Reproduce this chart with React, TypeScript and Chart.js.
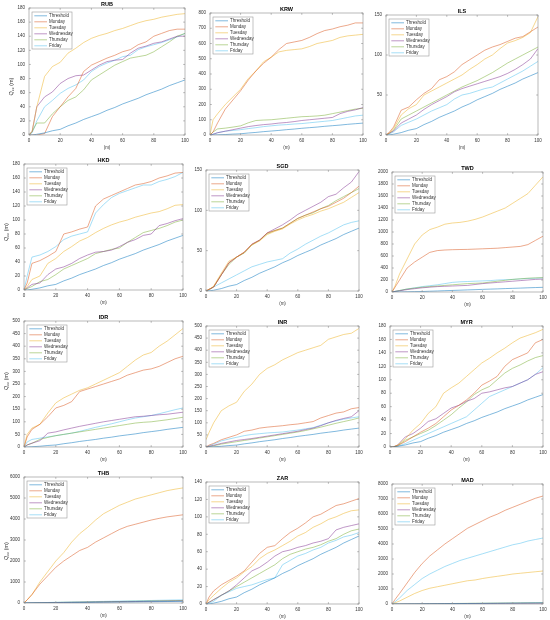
import React, { useEffect, useRef } from "react";
import { Chart, registerables } from "chart.js";

Chart.register(...registerables);

const FONT = '"Liberation Sans", Arial, Helvetica, sans-serif';
Chart.defaults.font.family = FONT;

// ---------- data ----------
const X = [0, 2, 5, 10, 15, 20, 25, 30, 35, 40, 45, 50, 55, 60, 65, 70, 75, 80, 85, 90, 95, 100];
const SERIES_NAMES = ["Threshold", "Monday", "Tuesday", "Wednesday", "Thursday", "Friday"];
const COLORS = ["#0072BD", "#D95319", "#EDB120", "#7E2F8E", "#77AC30", "#4DBEEE"];
const X_TICKS = [0, 20, 40, 60, 80, 100];

const THRESHOLD = [0, 0, 1, 3, 6, 8, 13, 17, 22, 26, 30, 35, 39, 44, 48, 52, 57, 61, 65, 70, 74, 78];

const RUB_MON = [0, 0, 0, 2, 26, 40, 54, 66, 90, 99, 104, 109, 113, 118, 121, 128, 132, 140, 144, 148, 150, 150];
const RUB_TUE = [0, 5, 40, 83, 97, 103, 116, 123, 131, 137, 141, 144, 148, 151, 155, 159, 162, 164, 167, 169, 171, 172];
const RUB_WED = [0, 5, 40, 54, 61, 73, 80, 84, 85, 92, 99, 104, 106, 107, 116, 123, 126, 130, 132, 136, 140, 140];
const RUB_THU = [0, 5, 17, 17, 30, 40, 49, 54, 64, 78, 85, 92, 99, 104, 109, 111, 113, 118, 125, 132, 140, 144];
const RUB_FRI = [0, 3, 20, 40, 49, 59, 66, 71, 78, 90, 97, 102, 106, 111, 113, 121, 125, 128, 131, 135, 139, 144];

const KRW_MON = [0, 20, 80, 170, 230, 290, 360, 420, 470, 510, 560, 600, 610, 620, 640, 665, 685, 695, 710, 720, 735, 735];
const KRW_TUE = [0, 100, 140, 200, 250, 300, 370, 420, 480, 510, 545, 555, 560, 565, 580, 600, 610, 620, 640, 650, 655, 660];
const KRW_WED = [0, 5, 15, 25, 35, 45, 55, 62, 68, 72, 78, 82, 88, 95, 100, 105, 110, 115, 140, 155, 165, 180];
const KRW_THU = [0, 20, 40, 45, 52, 60, 80, 95, 98, 100, 105, 110, 115, 120, 122, 125, 130, 140, 150, 160, 170, 175];
const KRW_FRI = [0, 5, 15, 25, 30, 35, 42, 48, 55, 60, 65, 68, 72, 75, 80, 85, 90, 95, 105, 115, 125, 130];

const ILS_MON = [0, 3, 10, 31, 35, 44, 52, 58, 69, 73, 79, 88, 94, 100, 106, 110, 113, 117, 121, 123, 129, 135];
const ILS_TUE = [0, 2, 8, 25, 33, 38, 50, 55, 60, 65, 70, 75, 82, 88, 95, 100, 108, 115, 118, 122, 128, 148];
const ILS_WED = [0, 2, 5, 15, 20, 25, 32, 38, 43, 48, 54, 58, 61, 64, 67, 70, 73, 77, 82, 88, 95, 108];
const ILS_THU = [0, 2, 6, 20, 25, 30, 35, 40, 45, 50, 55, 60, 64, 68, 73, 78, 84, 90, 95, 100, 105, 110];
const ILS_FRI = [0, 1, 4, 12, 16, 20, 25, 30, 34, 38, 45, 50, 52, 55, 58, 60, 65, 70, 75, 80, 86, 92];

const HKD_MON = [0, 10, 38, 42, 48, 55, 80, 83, 87, 90, 120, 130, 135, 140, 145, 150, 152, 155, 160, 163, 167, 168];
const HKD_TUE = [0, 5, 15, 20, 38, 45, 55, 62, 70, 75, 82, 88, 93, 97, 100, 104, 107, 110, 112, 116, 121, 122];
const HKD_WED = [0, 3, 8, 10, 22, 30, 33, 38, 45, 50, 54, 55, 57, 62, 68, 72, 78, 80, 92, 95, 99, 102];
const HKD_THU = [0, 2, 5, 12, 15, 22, 30, 35, 40, 45, 52, 55, 58, 60, 68, 75, 82, 85, 88, 92, 97, 100];
const HKD_FRI = [0, 20, 47, 50, 55, 62, 72, 77, 80, 83, 110, 122, 132, 138, 142, 146, 150, 150, 155, 158, 162, 168];

const SGD_MON = [0, 2, 5, 20, 35, 42, 48, 58, 63, 72, 75, 78, 84, 90, 94, 98, 102, 105, 110, 115, 122, 130];
const SGD_TUE = [0, 2, 6, 22, 37, 42, 48, 57, 62, 70, 74, 77, 83, 88, 92, 95, 99, 102, 106, 110, 116, 122];
const SGD_WED = [0, 2, 5, 20, 35, 42, 48, 58, 63, 72, 77, 82, 88, 95, 100, 105, 110, 117, 120, 128, 135, 148];
const SGD_THU = [0, 2, 5, 20, 33, 42, 47, 57, 63, 71, 75, 78, 84, 90, 94, 97, 102, 106, 112, 117, 122, 127];
const SGD_FRI = [0, 1, 5, 10, 15, 20, 25, 30, 33, 36, 38, 40, 47, 52, 58, 63, 68, 72, 77, 82, 85, 87];

const TWD_MON = [0, 80, 200, 400, 500, 580, 660, 690, 700, 705, 708, 710, 715, 720, 725, 730, 740, 750, 760, 790, 860, 930];
const TWD_TUE = [0, 100, 300, 550, 800, 950, 1040, 1080, 1130, 1150, 1160, 1180, 1210, 1250, 1300, 1350, 1400, 1480, 1560, 1640, 1780, 1920];
const TWD_WED = [0, 10, 20, 40, 55, 70, 80, 90, 95, 100, 105, 110, 125, 140, 150, 160, 170, 180, 190, 200, 210, 215];
const TWD_THU = [0, 10, 25, 50, 65, 80, 90, 100, 110, 120, 130, 140, 145, 150, 165, 180, 195, 210, 220, 230, 235, 240];
const TWD_FRI = [0, 10, 25, 50, 70, 90, 105, 120, 140, 160, 170, 175, 180, 185, 190, 200, 205, 210, 218, 225, 230, 235];

const IDR_MON = [0, 40, 70, 90, 120, 155, 165, 180, 220, 230, 240, 250, 260, 270, 285, 295, 305, 310, 320, 335, 350, 360];
const IDR_TUE = [0, 50, 75, 90, 135, 175, 195, 210, 225, 235, 250, 265, 280, 295, 320, 345, 365, 375, 400, 420, 445, 470];
const IDR_WED = [0, 8, 15, 25, 55, 60, 68, 75, 82, 88, 94, 100, 105, 110, 115, 120, 122, 125, 128, 130, 134, 138];
const IDR_THU = [0, 8, 15, 30, 38, 45, 50, 55, 60, 65, 70, 75, 80, 85, 90, 95, 98, 100, 104, 108, 113, 118];
const IDR_FRI = [0, 20, 30, 35, 40, 45, 50, 55, 62, 70, 78, 85, 92, 100, 108, 115, 120, 125, 132, 140, 148, 155];

const INR_MON = [0, 8, 15, 30, 40, 50, 65, 70, 78, 82, 85, 88, 92, 95, 100, 105, 120, 130, 140, 145, 158, 163];
const INR_TUE = [30, 60, 100, 150, 170, 185, 230, 260, 300, 325, 340, 360, 375, 390, 400, 410, 420, 445, 455, 465, 470, 490];
const INR_WED = [0, 3, 7, 15, 21, 27, 31, 35, 40, 45, 50, 55, 60, 65, 72, 78, 88, 100, 110, 118, 125, 150];
const INR_THU = [0, 2, 5, 12, 17, 22, 27, 32, 37, 42, 47, 52, 57, 62, 68, 75, 82, 90, 98, 105, 112, 120];
const INR_FRI = [0, 5, 12, 25, 33, 40, 47, 52, 55, 58, 60, 62, 66, 70, 75, 80, 90, 100, 108, 115, 120, 125];

const MYR_MON = [0, 0, 2, 8, 15, 22, 28, 35, 45, 55, 62, 70, 80, 92, 98, 105, 120, 130, 135, 140, 155, 160];
const MYR_TUE = [0, 0, 3, 12, 25, 35, 50, 60, 80, 88, 95, 105, 115, 125, 132, 140, 147, 155, 162, 166, 170, 175];
const MYR_WED = [0, 0, 3, 15, 20, 28, 38, 42, 50, 58, 62, 68, 72, 80, 82, 85, 88, 90, 95, 100, 108, 112];
const MYR_THU = [0, 0, 2, 10, 15, 20, 25, 32, 40, 48, 58, 67, 78, 85, 90, 100, 110, 117, 122, 128, 133, 136];
const MYR_FRI = [0, 0, 1, 5, 10, 15, 20, 25, 30, 35, 40, 45, 55, 65, 75, 80, 85, 90, 95, 100, 108, 118];

const THB_MON = [0, 150, 400, 900, 1300, 1700, 2000, 2250, 2500, 2650, 2900, 3100, 3300, 3500, 3650, 3750, 3850, 3950, 4030, 4100, 4150, 4200];
const THB_TUE = [0, 150, 400, 1000, 1500, 2000, 2400, 2900, 3300, 3600, 3950, 4250, 4450, 4650, 4800, 4950, 5050, 5150, 5250, 5350, 5420, 5480];
const THB_WED = [0, 3, 6, 12, 17, 22, 26, 31, 36, 40, 46, 50, 56, 61, 64, 70, 76, 80, 86, 91, 95, 100];
const THB_THU = [0, 4, 8, 14, 21, 26, 33, 38, 43, 51, 55, 61, 66, 71, 79, 84, 89, 97, 101, 108, 115, 120];
const THB_FRI = [0, 5, 10, 18, 25, 32, 40, 47, 54, 62, 70, 76, 84, 90, 97, 104, 112, 120, 128, 136, 143, 150];

const ZAR_MON = [0, 8, 15, 22, 27, 32, 38, 48, 58, 65, 67, 75, 82, 87, 93, 100, 103, 108, 113, 115, 118, 121];
const ZAR_TUE = [0, 5, 10, 18, 25, 30, 37, 43, 52, 58, 62, 67, 72, 78, 82, 88, 92, 97, 100, 104, 107, 108];
const ZAR_WED = [0, 2, 5, 10, 15, 22, 30, 38, 42, 48, 55, 60, 62, 65, 67, 70, 72, 75, 85, 88, 90, 92];
const ZAR_THU = [0, 2, 5, 10, 15, 20, 25, 30, 35, 40, 45, 52, 57, 60, 63, 65, 68, 72, 75, 80, 84, 86];
const ZAR_FRI = [0, 1, 3, 10, 14, 18, 20, 22, 25, 28, 30, 45, 50, 55, 58, 62, 65, 70, 73, 77, 79, 82];

const MAD_MON = [0, 300, 700, 1400, 2100, 2700, 3200, 3600, 4000, 4350, 4700, 5050, 5300, 5550, 5800, 6000, 6250, 6450, 6650, 6850, 7050, 7200];
const MAD_TUE = [0, 80, 200, 450, 700, 900, 1050, 1150, 1250, 1350, 1450, 1550, 1600, 1700, 1780, 1850, 1920, 2000, 2050, 2100, 2150, 2200];
const MAD_WED = [0, 1, 3, 6, 9, 12, 15, 18, 20, 23, 26, 28, 31, 33, 36, 38, 41, 43, 45, 47, 49, 50];
const MAD_THU = [0, 2, 5, 10, 14, 18, 23, 27, 31, 35, 39, 43, 47, 51, 55, 59, 63, 67, 71, 74, 77, 80];
const MAD_FRI = [0, 150, 400, 900, 1300, 1700, 2000, 2250, 2500, 2700, 2900, 3050, 3200, 3350, 3500, 3650, 3800, 3950, 4050, 4200, 4300, 4400];

// ---------- layout (plot-area rectangles in page px) ----------
type PanelDef = {
  title: string;
  series: number[][];
  yMax: number;
  yStep: number;
  rect: [number, number, number, number];
  yLabel: boolean;
  yOff: number;
};

const PANELS: PanelDef[] = [
  { title: "RUB", series: [RUB_MON, RUB_TUE, RUB_WED, RUB_THU, RUB_FRI], yMax: 180, yStep: 20, rect: [29, 8, 185, 135], yLabel: true, yOff: 15 },
  { title: "KRW", series: [KRW_MON, KRW_TUE, KRW_WED, KRW_THU, KRW_FRI], yMax: 800, yStep: 100, rect: [210, 13, 363, 135], yLabel: false, yOff: 0 },
  { title: "ILS", series: [ILS_MON, ILS_TUE, ILS_WED, ILS_THU, ILS_FRI], yMax: 150, yStep: 50, rect: [386, 15, 538, 135], yLabel: false, yOff: 0 },
  { title: "HKD", series: [HKD_MON, HKD_TUE, HKD_WED, HKD_THU, HKD_FRI], yMax: 180, yStep: 20, rect: [24, 164, 183, 290], yLabel: true, yOff: 5 },
  { title: "SGD", series: [SGD_MON, SGD_TUE, SGD_WED, SGD_THU, SGD_FRI], yMax: 150, yStep: 50, rect: [206, 170, 359, 291], yLabel: false, yOff: 0 },
  { title: "TWD", series: [TWD_MON, TWD_TUE, TWD_WED, TWD_THU, TWD_FRI], yMax: 2000, yStep: 200, rect: [392, 172, 543, 292], yLabel: false, yOff: 0 },
  { title: "IDR", series: [IDR_MON, IDR_TUE, IDR_WED, IDR_THU, IDR_FRI], yMax: 500, yStep: 50, rect: [24, 321, 183, 447], yLabel: true, yOff: -3 },
  { title: "INR", series: [INR_MON, INR_TUE, INR_WED, INR_THU, INR_FRI], yMax: 500, yStep: 50, rect: [206, 326, 359, 447], yLabel: false, yOff: 0 },
  { title: "MYR", series: [MYR_MON, MYR_TUE, MYR_WED, MYR_THU, MYR_FRI], yMax: 180, yStep: 20, rect: [390, 326, 543, 447], yLabel: false, yOff: 0 },
  { title: "THB", series: [THB_MON, THB_TUE, THB_WED, THB_THU, THB_FRI], yMax: 6000, yStep: 1000, rect: [24, 477, 183, 603], yLabel: true, yOff: 11 },
  { title: "ZAR", series: [ZAR_MON, ZAR_TUE, ZAR_WED, ZAR_THU, ZAR_FRI], yMax: 140, yStep: 20, rect: [206, 482, 359, 604], yLabel: false, yOff: 0 },
  { title: "MAD", series: [MAD_MON, MAD_TUE, MAD_WED, MAD_THU, MAD_FRI], yMax: 8000, yStep: 1000, rect: [392, 484, 543, 604], yLabel: false, yOff: 0 },
];

const TP = 10; // room above plot for title
const RP = 8; // right padding
const XH = 16; // x-axis block height
const YW_INNER = 20; // y-axis width for non-left panels
const TICK_FONT = 4.5;
const AXIS_COLOR = "#8a8a8a";
const TEXT_COLOR = "#333333";
const LINE_W = 0.5;

function decorPlugin(p: PanelDef) {
  return {
    id: "decor",
    afterDatasetsDraw(chart: any) {
      const { ctx, chartArea: a, scales } = chart;
      ctx.save();
      // frame + inner ticks (MATLAB box style)
      ctx.strokeStyle = AXIS_COLOR;
      ctx.lineWidth = 0.6;
      const tl = 1.8;
      ctx.beginPath();
      scales.x.ticks.forEach((tk: any) => {
        const px = scales.x.getPixelForValue(tk.value);
        ctx.moveTo(px, a.bottom);
        ctx.lineTo(px, a.bottom - tl);
        ctx.moveTo(px, a.top);
        ctx.lineTo(px, a.top + tl);
      });
      scales.y.ticks.forEach((tk: any) => {
        const py = scales.y.getPixelForValue(tk.value);
        ctx.moveTo(a.left, py);
        ctx.lineTo(a.left + tl, py);
        ctx.moveTo(a.right, py);
        ctx.lineTo(a.right - tl, py);
      });
      ctx.stroke();
      ctx.strokeRect(a.left, a.top, a.right - a.left, a.bottom - a.top);

      // legend box
      const bx = a.left + 3;
      const by = a.top + 4;
      const bw = 40;
      const bh = 37;
      ctx.fillStyle = "#ffffff";
      ctx.fillRect(bx, by, bw, bh);
      ctx.strokeStyle = "#9a9a9a";
      ctx.lineWidth = 0.6;
      ctx.strokeRect(bx, by, bw, bh);
      ctx.font = `${TICK_FONT}px ${FONT}`;
      ctx.textAlign = "left";
      ctx.textBaseline = "middle";
      chart.data.datasets.forEach((ds: any, i: number) => {
        const yy = by + 3.8 + i * 6;
        ctx.strokeStyle = ds.borderColor;
        ctx.lineWidth = LINE_W;
        ctx.beginPath();
        ctx.moveTo(bx + 2.3, yy);
        ctx.lineTo(bx + 15, yy);
        ctx.stroke();
        ctx.fillStyle = TEXT_COLOR;
        ctx.fillText(ds.label, bx + 17, yy + 0.2);
      });

      // title
      ctx.fillStyle = "#000000";
      ctx.font = `bold 5.5px ${FONT}`;
      ctx.textAlign = "center";
      ctx.textBaseline = "bottom";
      ctx.fillText(p.title, (a.left + a.right) / 2, a.top - 1);

      // y label  Q_cc (m)
      if (p.yLabel) {
        ctx.translate(a.left - 18, (a.top + a.bottom) / 2 + p.yOff);
        ctx.rotate(-Math.PI / 2);
        ctx.fillStyle = TEXT_COLOR;
        ctx.textBaseline = "middle";
        ctx.textAlign = "left";
        const big = `5.5px ${FONT}`;
        const small = `3.8px ${FONT}`;
        ctx.font = big;
        const wQ = ctx.measureText("Q").width;
        const wM = ctx.measureText(" (m)").width;
        ctx.font = small;
        const wC = ctx.measureText("cc").width;
        let x0 = -(wQ + wC + wM) / 2;
        ctx.font = big;
        ctx.fillText("Q", x0, 0);
        x0 += wQ;
        ctx.font = small;
        ctx.fillText("cc", x0, 1.8);
        x0 += wC;
        ctx.font = big;
        ctx.fillText(" (m)", x0, 0);
      }
      ctx.restore();
    },
  };
}

function Panel({ p }: { p: PanelDef }) {
  const ref = useRef<HTMLCanvasElement>(null);
  const [l, t, r, b] = p.rect;
  const yw = p.yLabel ? l : YW_INNER;
  const w = yw + (r - l) + RP;
  const h = TP + (b - t) + XH;

  useEffect(() => {
    if (!ref.current) return;
    const all = [THRESHOLD, ...p.series];
    const chart = new Chart(ref.current, {
      type: "line",
      data: {
        datasets: all.map((s, i) => ({
          label: SERIES_NAMES[i],
          data: X.map((x, j) => ({ x, y: s[j] })),
          borderColor: COLORS[i],
          backgroundColor: COLORS[i],
          borderWidth: LINE_W,
          pointRadius: 0,
          fill: false,
          tension: 0,
        })),
      },
      options: {
        animation: false,
        responsive: false,
        events: [],
        layout: { padding: { top: TP, right: RP, left: 0, bottom: 0 } },
        plugins: {
          legend: { display: false },
          tooltip: { enabled: false },
          title: { display: false },
        },
        scales: {
          x: {
            type: "linear",
            min: 0,
            max: 100,
            afterBuildTicks: (s: any) => {
              s.ticks = X_TICKS.map((v) => ({ value: v }));
            },
            ticks: {
              font: { size: TICK_FONT },
              color: TEXT_COLOR,
              padding: 3.5,
              maxRotation: 0,
              autoSkip: false,
              callback: (v: any) => String(v),
            },
            grid: { display: false, drawTicks: false, tickLength: 0 },
            border: { display: false },
            title: { display: true, text: "(m)", font: { size: TICK_FONT }, color: TEXT_COLOR, padding: { top: 0, bottom: 1 } },
            afterFit: (s: any) => {
              s.height = XH;
            },
          },
          y: {
            type: "linear",
            min: 0,
            max: p.yMax,
            ticks: {
              stepSize: p.yStep,
              font: { size: TICK_FONT },
              color: TEXT_COLOR,
              padding: 4,
              autoSkip: false,
              callback: (v: any) => String(v),
            },
            grid: { display: false, drawTicks: false, tickLength: 0 },
            border: { display: false },
            afterFit: (s: any) => {
              s.width = yw;
            },
          },
        },
      } as any,
      plugins: [decorPlugin(p)],
    });
    return () => chart.destroy();
  }, []);

  return (
    <canvas
      ref={ref}
      width={w}
      height={h}
      style={{ position: "absolute", left: l - yw, top: t - TP, width: w, height: h }}
    />
  );
}

export default function App() {
  return (
    <div style={{ position: "absolute", left: 0, top: 0, width: 550, height: 620, background: "#ffffff", overflow: "hidden" }}>
      {PANELS.map((p) => (
        <Panel key={p.title} p={p} />
      ))}
    </div>
  );
}
